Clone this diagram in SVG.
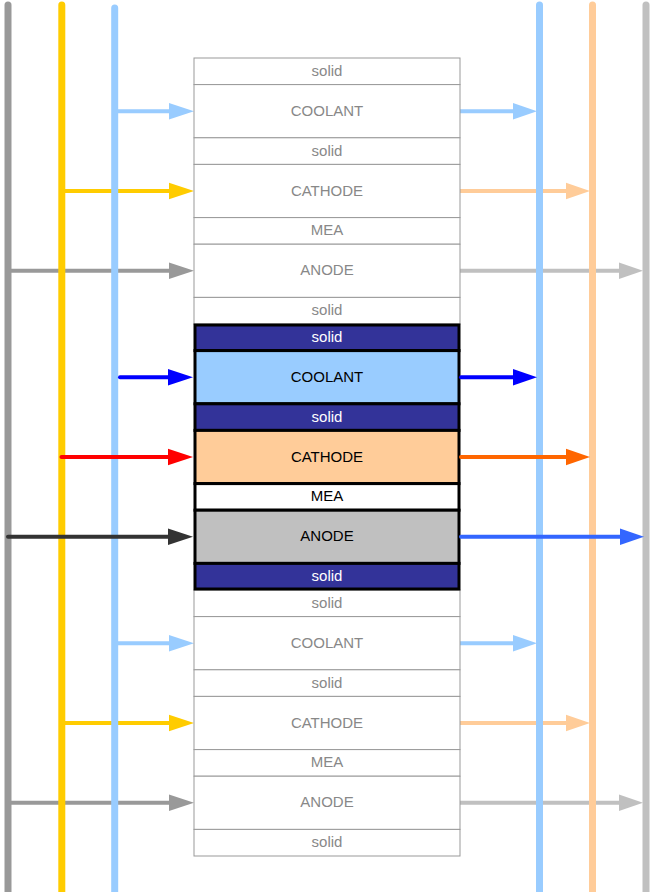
<svg xmlns="http://www.w3.org/2000/svg" width="651" height="892" viewBox="0 0 651 892">
<style>
  text { font-family: "Liberation Sans", Arial, sans-serif; font-size: 15px; text-anchor: middle; }
  .fr { fill: #ffffff; stroke: #999999; stroke-width: 1; }
  .ft { fill: #888888; }
  .b { stroke: #000000; stroke-width: 3; }
  .solid { fill: #333399; }
  .cool { fill: #99ccff; }
  .cath { fill: #ffcc99; }
  .mea { fill: #ffffff; }
  .anod { fill: #c0c0c0; }
  .wt { fill: #ffffff; }
  .bt { fill: #000000; }
  .vl { stroke-width: 7; stroke-linecap: round; fill: none; }
  .al { stroke-width: 4; stroke-linecap: round; fill: none; }
</style>

<!-- faded connectors (under the vertical lines) -->
<g id="connectors-faded">
  <line class="al" x1="114.5" y1="111.2" x2="170" y2="111.2" stroke="#99ccff"/>
  <polygon points="194,111.2 169,103 169,119.4" fill="#99ccff"/>
  <line class="al" x1="61.5" y1="191" x2="170" y2="191" stroke="#ffcc00"/>
  <polygon points="194,191 169,182.8 169,199.2" fill="#ffcc00"/>
  <line class="al" x1="8" y1="270.8" x2="170" y2="270.8" stroke="#999999"/>
  <polygon points="194,270.8 169,262.6 169,279" fill="#999999"/>

  <line class="al" x1="460" y1="111.2" x2="515" y2="111.2" stroke="#99ccff"/>
  <polygon points="537,111.2 513,103 513,119.4" fill="#99ccff"/>
  <line class="al" x1="460" y1="191" x2="568" y2="191" stroke="#ffcc99"/>
  <polygon points="590,191 566,182.8 566,199.2" fill="#ffcc99"/>
  <line class="al" x1="460" y1="270.8" x2="621" y2="270.8" stroke="#c0c0c0"/>
  <polygon points="643,270.8 619,262.6 619,279" fill="#c0c0c0"/>

  <line class="al" x1="114.5" y1="643.2" x2="170" y2="643.2" stroke="#99ccff"/>
  <polygon points="194,643.2 169,635 169,651.4" fill="#99ccff"/>
  <line class="al" x1="61.5" y1="723" x2="170" y2="723" stroke="#ffcc00"/>
  <polygon points="194,723 169,714.8 169,731.2" fill="#ffcc00"/>
  <line class="al" x1="8" y1="802.8" x2="170" y2="802.8" stroke="#999999"/>
  <polygon points="194,802.8 169,794.6 169,811" fill="#999999"/>

  <line class="al" x1="460" y1="643.2" x2="515" y2="643.2" stroke="#99ccff"/>
  <polygon points="537,643.2 513,635 513,651.4" fill="#99ccff"/>
  <line class="al" x1="460" y1="723" x2="568" y2="723" stroke="#ffcc99"/>
  <polygon points="590,723 566,714.8 566,731.2" fill="#ffcc99"/>
  <line class="al" x1="460" y1="802.8" x2="621" y2="802.8" stroke="#c0c0c0"/>
  <polygon points="643,802.8 619,794.6 619,811" fill="#c0c0c0"/>
</g>

<!-- vertical manifold lines -->
<g id="manifolds">
  <line id="anode-in" class="vl" x1="8" y1="5" x2="8" y2="900" stroke="#999999"/>
  <line id="cathode-in" class="vl" x1="61.8" y1="5" x2="61.8" y2="900" stroke="#ffcc00"/>
  <line id="coolant-in" class="vl" x1="114.7" y1="8" x2="114.7" y2="900" stroke="#99ccff"/>
  <line id="coolant-out" class="vl" x1="539.5" y1="5" x2="539.5" y2="900" stroke="#99ccff"/>
  <line id="cathode-out" class="vl" x1="592.5" y1="5" x2="592.5" y2="900" stroke="#ffcc99"/>
  <line id="anode-out" class="vl" x1="646" y1="5" x2="646" y2="900" stroke="#c0c0c0"/>
</g>

<!-- top faded cell -->
<g id="cell-top">
  <g id="t-solid1"><rect class="fr" x="194" y="58" width="266" height="26.6"/><text class="ft" x="327" y="75.8">solid</text></g>
  <g id="t-coolant"><rect class="fr" x="194" y="84.6" width="266" height="53.2"/><text class="ft" x="327" y="115.7">COOLANT</text></g>
  <g id="t-solid2"><rect class="fr" x="194" y="137.8" width="266" height="26.6"/><text class="ft" x="327" y="155.6">solid</text></g>
  <g id="t-cathode"><rect class="fr" x="194" y="164.4" width="266" height="53.2"/><text class="ft" x="327" y="195.5">CATHODE</text></g>
  <g id="t-mea"><rect class="fr" x="194" y="217.6" width="266" height="26.6"/><text class="ft" x="327" y="235.4">MEA</text></g>
  <g id="t-anode"><rect class="fr" x="194" y="244.2" width="266" height="53.2"/><text class="ft" x="327" y="275.3">ANODE</text></g>
  <g id="t-solid3"><rect class="fr" x="194" y="297.4" width="266" height="26.6"/><text class="ft" x="327" y="315.2">solid</text></g>
</g>

<!-- bottom faded cell -->
<g id="cell-bottom">
  <g id="b-solid1"><rect class="fr" x="194" y="590" width="266" height="26.6"/><text class="ft" x="327" y="607.8">solid</text></g>
  <g id="b-coolant"><rect class="fr" x="194" y="616.6" width="266" height="53.2"/><text class="ft" x="327" y="647.7">COOLANT</text></g>
  <g id="b-solid2"><rect class="fr" x="194" y="669.8" width="266" height="26.6"/><text class="ft" x="327" y="687.6">solid</text></g>
  <g id="b-cathode"><rect class="fr" x="194" y="696.4" width="266" height="53.2"/><text class="ft" x="327" y="727.5">CATHODE</text></g>
  <g id="b-mea"><rect class="fr" x="194" y="749.6" width="266" height="26.6"/><text class="ft" x="327" y="767.4">MEA</text></g>
  <g id="b-anode"><rect class="fr" x="194" y="776.2" width="266" height="53.2"/><text class="ft" x="327" y="807.3">ANODE</text></g>
  <g id="b-solid3"><rect class="fr" x="194" y="829.4" width="266" height="26.6"/><text class="ft" x="327" y="847.2">solid</text></g>
</g>

<!-- middle highlighted cell -->
<g id="cell-middle">
  <g id="m-solid1"><rect class="b solid" x="195" y="325" width="264" height="25.6"/><text class="wt" x="327" y="341.8">solid</text></g>
  <g id="m-coolant"><rect class="b cool" x="195" y="350.6" width="264" height="53.2"/><text class="bt" x="327" y="381.7">COOLANT</text></g>
  <g id="m-solid2"><rect class="b solid" x="195" y="403.8" width="264" height="26.6"/><text class="wt" x="327" y="421.6">solid</text></g>
  <g id="m-cathode"><rect class="b cath" x="195" y="430.4" width="264" height="53.2"/><text class="bt" x="327" y="461.5">CATHODE</text></g>
  <g id="m-mea"><rect class="b mea" x="195" y="483.6" width="264" height="26.6"/><text class="bt" x="327" y="501.4">MEA</text></g>
  <g id="m-anode"><rect class="b anod" x="195" y="510.2" width="264" height="53.2"/><text class="bt" x="327" y="541.3">ANODE</text></g>
  <g id="m-solid3"><rect class="b solid" x="195" y="563.4" width="264" height="25.6"/><text class="wt" x="327" y="581.2">solid</text></g>
</g>

<!-- highlighted connectors (over the vertical lines) -->
<g id="connectors-main">
  <line class="al" x1="120" y1="377.2" x2="170" y2="377.2" stroke="#0000ff"/>
  <polygon points="193,377.2 168,369 168,385.4" fill="#0000ff"/>
  <line class="al" x1="61.5" y1="457" x2="170" y2="457" stroke="#ff0000"/>
  <polygon points="193,457 168,448.8 168,465.2" fill="#ff0000"/>
  <line class="al" x1="8" y1="536.8" x2="170" y2="536.8" stroke="#333333"/>
  <polygon points="193,536.8 168,528.6 168,545" fill="#333333"/>

  <line class="al" x1="461" y1="377.2" x2="515" y2="377.2" stroke="#0000ff"/>
  <polygon points="537,377.2 513,369 513,385.4" fill="#0000ff"/>
  <line class="al" x1="461" y1="457" x2="568" y2="457" stroke="#ff6600"/>
  <polygon points="590,457 566,448.8 566,465.2" fill="#ff6600"/>
  <line class="al" x1="461" y1="536.8" x2="621" y2="536.8" stroke="#3366ff"/>
  <polygon points="644,536.8 620,528.6 620,545" fill="#3366ff"/>
</g>
</svg>
